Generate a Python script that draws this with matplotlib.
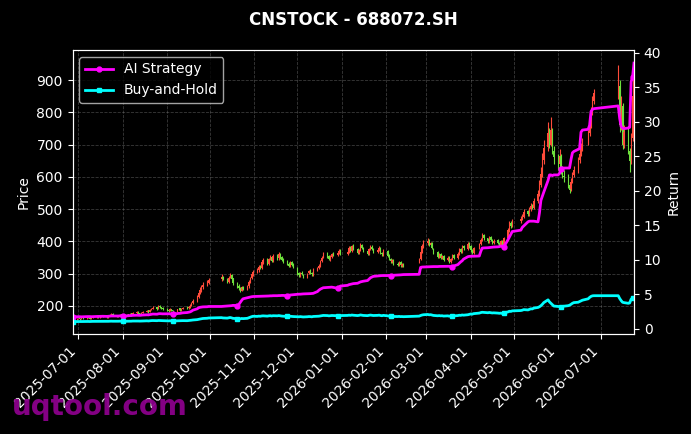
import numpy as np
import pandas as pd
import matplotlib
matplotlib.use("Agg")
import matplotlib.pyplot as plt
import matplotlib.dates as mdates

# trading days: weekdays minus exchange holidays and the stretch with no data
closed = ["2025-10-01", "2025-10-02", "2025-10-03", "2025-10-06", "2025-10-07", "2025-10-08",
          "2026-01-01", "2026-01-02",
          "2026-02-16", "2026-02-17", "2026-02-18", "2026-02-19", "2026-02-20", "2026-02-23",
          "2026-04-06", "2026-05-01", "2026-05-04", "2026-05-05", "2026-06-19"]
no_data = pd.bdate_range("2026-06-29", "2026-07-10")
days = pd.bdate_range("2025-06-27", "2026-07-24")
days = days[~days.isin(pd.to_datetime(closed)) & ~days.isin(no_data)]

# daily OHLC, one row per month (Jun-25 .. Jul-26)
opens = [
    156, 159,
    160, 162, 159, 164, 162, 166, 163, 161, 163, 166, 168, 165, 167, 171, 168, 166, 170, 172, 175, 171, 168, 170, 174,
    170, 173, 170, 174, 177, 173, 178, 181, 177, 175, 179, 182, 186, 181, 188, 192, 196, 190, 199, 196, 193,
    191, 188, 185, 190, 186, 183, 189, 193, 187, 191, 196, 193, 197, 202, 208, 216, 229, 241, 251, 259, 267, 272,
    282, 291, 284, 274, 289, 296, 285, 270, 263, 256, 247, 259, 251, 261, 276, 286, 297,
    306, 311, 323, 317, 336, 343, 331, 346, 353, 341, 356, 347, 361, 351, 343, 339, 331, 324, 336, 329,
    318, 301, 294, 303, 297, 291, 301, 309, 303, 297, 313, 319, 326, 339, 351, 363, 354, 344, 353, 361, 357, 366, 371,
    361, 369, 381, 371, 386, 377, 364, 373, 389, 379, 371, 361, 376, 384, 375, 367, 373, 381, 365, 359,
    370, 356, 344, 337, 343, 331, 327, 336, 325, 331, 336, 346, 369, 386,
    394, 403, 389, 396, 377, 366, 351, 361, 347, 356, 341, 351, 337, 346, 357, 347, 363, 376, 367, 386, 377, 393,
    386, 371, 364, 381, 393, 406, 419, 409, 399, 413, 404, 395, 403, 394, 387, 401, 384, 411, 436, 456, 447,
    463, 471, 477, 493, 484, 499, 511, 504, 526, 549, 576, 611, 651, 691, 736, 699, 746, 681,
    658, 641, 666, 621, 604, 599, 574, 561, 586, 606, 621, 651, 673, 689, 706, 736, 761, 801, 836,
    862, 881, 759, 821, 699, 741, 679, 651, 721, 849,
]
highs = [
    161, 163,
    163, 163, 165, 166, 167, 168, 165, 165, 168, 171, 170, 169, 173, 173, 170, 171, 175, 178, 177, 173, 172, 176, 176,
    175, 175, 176, 179, 179, 181, 183, 183, 179, 181, 185, 188, 188, 191, 195, 199, 198, 202, 203, 198, 196,
    193, 191, 193, 192, 188, 192, 195, 195, 194, 198, 199, 200, 205, 212, 220, 233, 247, 258, 266, 274, 280, 288,
    298, 294, 287, 292, 301, 298, 288, 274, 267, 260, 262, 263, 264, 280, 290, 303, 312,
    316, 328, 327, 340, 348, 347, 350, 358, 356, 360, 360, 366, 364, 356, 347, 343, 335, 340, 340, 332,
    320, 305, 306, 307, 300, 303, 312, 313, 306, 316, 322, 330, 343, 356, 368, 367, 358, 357, 365, 366, 370, 376, 375,
    374, 386, 385, 390, 392, 380, 376, 394, 393, 383, 374, 379, 388, 388, 378, 376, 385, 384, 368, 376,
    373, 360, 348, 346, 346, 336, 339, 339, 334, 334, 350, 373, 392, 405,
    410, 406, 399, 399, 381, 369, 364, 364, 359, 359, 354, 354, 349, 360, 360, 366, 380, 380, 390, 390, 398, 397,
    390, 376, 384, 396, 410, 425, 424, 412, 417, 417, 408, 406, 407, 398, 405, 405, 415, 442, 462, 462, 470,
    478, 486, 500, 497, 505, 518, 516, 535, 560, 590, 630, 675, 715, 770, 750, 785, 752, 695,
    672, 685, 672, 635, 620, 610, 585, 595, 615, 635, 660, 685, 705, 720, 745, 778, 815, 852, 872,
    945, 900, 850, 830, 760, 750, 690, 735, 870, 950,
]
lows = [
    154, 157,
    158, 157, 158, 160, 161, 162, 158, 159, 162, 164, 163, 163, 165, 166, 164, 164, 168, 170, 169, 166, 166, 168, 169,
    168, 168, 169, 172, 171, 172, 176, 175, 172, 174, 177, 180, 179, 180, 186, 189, 188, 189, 194, 191, 187,
    185, 182, 183, 184, 180, 181, 186, 184, 185, 189, 190, 190, 194, 199, 205, 212, 225, 236, 244, 252, 262, 268,
    276, 280, 270, 270, 285, 281, 266, 257, 250, 243, 245, 248, 248, 257, 272, 282, 293,
    301, 306, 313, 313, 331, 326, 327, 341, 336, 336, 343, 343, 346, 338, 333, 326, 320, 320, 324, 316,
    297, 291, 291, 295, 288, 288, 298, 300, 294, 294, 309, 315, 322, 335, 347, 350, 341, 340, 349, 354, 354, 362, 358,
    357, 365, 368, 367, 374, 361, 360, 369, 376, 366, 357, 358, 372, 372, 364, 364, 369, 362, 355, 356,
    352, 341, 334, 333, 328, 323, 324, 322, 321, 320, 332, 342, 364, 380,
    390, 386, 385, 375, 361, 348, 348, 344, 344, 338, 338, 334, 333, 342, 344, 344, 359, 364, 364, 373, 374, 380,
    368, 360, 360, 377, 389, 402, 405, 396, 395, 401, 392, 391, 391, 383, 384, 378, 380, 406, 430, 443, 444,
    458, 465, 472, 478, 479, 494, 500, 500, 520, 542, 568, 600, 640, 680, 690, 695, 672, 640,
    620, 632, 610, 596, 585, 565, 550, 555, 580, 598, 612, 642, 664, 680, 698, 728, 752, 792, 826,
    840, 740, 745, 685, 690, 670, 615, 640, 710, 835,
]
closes = [
    158, 160,
    161, 159, 163, 162, 165, 164, 160, 163, 166, 168, 165, 167, 170, 168, 166, 169, 172, 175, 171, 168, 170, 173, 171,
    172, 170, 174, 176, 173, 178, 180, 177, 175, 179, 182, 185, 181, 188, 192, 195, 190, 198, 196, 193, 190,
    188, 185, 190, 186, 183, 189, 192, 187, 191, 195, 193, 197, 201, 208, 215, 228, 240, 250, 258, 266, 272, 280,
    290, 283, 275, 288, 295, 284, 270, 262, 255, 248, 258, 252, 260, 275, 285, 298, 305,
    310, 322, 318, 335, 342, 330, 345, 352, 340, 355, 348, 360, 350, 342, 338, 330, 325, 335, 328, 320,
    300, 295, 302, 298, 292, 300, 308, 304, 298, 312, 318, 325, 338, 350, 362, 355, 345, 352, 360, 358, 365, 370, 362,
    368, 380, 372, 385, 378, 365, 372, 388, 380, 370, 362, 375, 383, 376, 368, 372, 380, 366, 360, 372,
    355, 345, 338, 342, 332, 328, 335, 326, 330, 324, 345, 368, 385, 395,
    402, 390, 395, 378, 365, 352, 360, 348, 355, 342, 350, 338, 345, 356, 348, 362, 375, 368, 385, 378, 392, 385,
    372, 365, 380, 392, 405, 418, 410, 400, 412, 405, 396, 402, 395, 388, 400, 385, 410, 435, 455, 448, 462,
    470, 478, 492, 485, 498, 510, 505, 525, 548, 575, 610, 650, 690, 735, 700, 745, 680, 660,
    640, 665, 620, 605, 598, 575, 560, 585, 605, 620, 650, 672, 690, 705, 735, 760, 800, 835, 860,
    880, 760, 820, 700, 740, 680, 650, 720, 850, 930,
]

# cumulative return curves (right axis)
ai_strategy = [
    1.74, 1.75,
    1.75, 1.76, 1.74, 1.75, 1.77, 1.78, 1.78, 1.76, 1.77, 1.79, 1.80, 1.80, 1.81, 1.82, 1.80, 1.82, 1.84, 1.86, 1.86, 1.85, 1.86, 1.88, 1.88,
    1.88, 1.88, 1.90, 1.92, 1.92, 1.95, 1.97, 1.96, 1.95, 1.98, 2.00, 2.03, 2.02, 2.06, 2.10, 2.14, 2.12, 2.18, 2.20, 2.18, 2.17,
    2.18, 2.17, 2.20, 2.19, 2.18, 2.20, 2.24, 2.24, 2.28, 2.32, 2.36, 2.40, 2.45, 2.55, 2.70, 2.90, 3.05, 3.12, 3.15, 3.18, 3.20, 3.24,
    3.24, 3.26, 3.30, 3.32, 3.34, 3.36, 3.40, 3.38, 3.50, 3.80, 4.10, 4.35, 4.50, 4.55, 4.60, 4.65, 4.68,
    4.70, 4.70, 4.72, 4.72, 4.74, 4.76, 4.76, 4.78, 4.78, 4.80, 4.80, 4.82, 4.82, 4.84, 4.84, 4.80, 4.86, 4.90, 4.92, 4.95,
    5.00, 5.02, 5.02, 5.04, 5.06, 5.08, 5.10, 5.10, 5.12, 5.14, 5.40, 5.60, 5.75, 5.85, 5.95, 6.00, 6.02, 6.04, 6.04, 6.00, 5.88, 6.00, 6.20,
    6.30, 6.40, 6.45, 6.50, 6.55, 6.60, 6.70, 6.80, 6.85, 6.90, 7.00, 7.20, 7.40, 7.50, 7.60, 7.65, 7.68, 7.70, 7.72, 7.72,
    7.72, 7.74, 7.72, 7.75, 7.76, 7.78, 7.80, 7.82, 7.84, 7.86, 7.90, 8.90, 8.95, 8.96,
    8.98, 9.00, 9.00, 9.02, 9.02, 9.02, 9.04, 9.04, 9.05, 9.05, 9.06, 9.06, 8.98, 8.94, 9.10, 9.30, 9.50, 9.70, 9.85, 10.10, 10.45, 10.50,
    10.50, 10.52, 10.52, 10.55, 11.20, 11.70, 11.72, 11.75, 11.78, 11.80, 11.82, 11.85, 11.88, 11.92, 11.95, 12.00, 11.85, 12.90, 13.30, 13.70, 14.10,
    14.30, 14.70, 14.90, 15.50, 15.60, 15.60, 15.60, 15.60, 15.50, 16.80, 18.60, 19.20, 19.80, 21.50, 22.30, 22.30, 22.20, 22.30,
    22.30, 22.50, 23.20, 23.30, 23.30, 23.30, 23.30, 24.50, 25.50, 25.70, 26.00, 26.10, 28.50, 28.80, 28.90, 29.50, 31.50, 31.80, 31.90,
    32.30, 30.50, 29.30, 29.10, 29.00, 29.10, 29.20, 35.80, 36.50, 38.50,
]
buy_hold = [
    1.05, 1.05,
    1.05, 1.06, 1.05, 1.06, 1.07, 1.07, 1.06, 1.07, 1.08, 1.08, 1.07, 1.08, 1.09, 1.08, 1.08, 1.09, 1.10, 1.11, 1.10, 1.09, 1.10, 1.11, 1.10,
    1.09, 1.10, 1.11, 1.12, 1.11, 1.13, 1.14, 1.13, 1.12, 1.13, 1.15, 1.16, 1.14, 1.17, 1.19, 1.20, 1.18, 1.21, 1.20, 1.19, 1.18,
    1.16, 1.15, 1.17, 1.15, 1.14, 1.16, 1.18, 1.16, 1.17, 1.19, 1.18, 1.20, 1.22, 1.25, 1.28, 1.33, 1.38, 1.42, 1.46, 1.50, 1.53, 1.57,
    1.62, 1.58, 1.55, 1.60, 1.64, 1.59, 1.52, 1.47, 1.46, 1.44, 1.50, 1.48, 1.52, 1.60, 1.68, 1.76, 1.82,
    1.80, 1.84, 1.82, 1.86, 1.88, 1.84, 1.88, 1.90, 1.86, 1.90, 1.88, 1.92, 1.88, 1.85, 1.83, 1.80, 1.79, 1.82, 1.80, 1.78,
    1.76, 1.74, 1.77, 1.75, 1.72, 1.75, 1.78, 1.77, 1.74, 1.79, 1.81, 1.83, 1.87, 1.90, 1.94, 1.92, 1.88, 1.90, 1.93, 1.92, 1.90, 1.95, 1.92,
    1.94, 1.98, 1.95, 2.00, 1.97, 1.92, 1.95, 2.01, 1.98, 1.94, 1.91, 1.96, 1.99, 1.96, 1.93, 1.95, 1.98, 1.93, 1.90, 1.95,
    1.88, 1.84, 1.82, 1.83, 1.79, 1.78, 1.80, 1.77, 1.78, 1.76, 1.84, 1.93, 2.00, 2.04,
    2.08, 2.03, 2.05, 1.99, 1.94, 1.89, 1.92, 1.88, 1.90, 1.85, 1.88, 1.83, 1.86, 1.90, 1.87, 1.92, 1.97, 1.95, 2.01, 1.98, 2.04, 2.10,
    2.15, 2.12, 2.20, 2.28, 2.35, 2.40, 2.38, 2.33, 2.37, 2.34, 2.30, 2.32, 2.28, 2.25, 2.28, 2.22, 2.30, 2.45, 2.55, 2.52, 2.60,
    2.65, 2.70, 2.78, 2.74, 2.82, 2.90, 2.88, 3.00, 3.10, 3.20, 3.35, 3.55, 3.80, 4.20, 3.90, 3.70, 3.50, 3.30,
    3.25, 3.22, 3.18, 3.22, 3.28, 3.35, 3.42, 3.55, 3.70, 3.80, 3.85, 3.95, 4.05, 4.15, 4.35, 4.55, 4.70, 4.78, 4.80,
    4.80, 4.40, 4.10, 3.85, 3.80, 3.70, 3.75, 4.30, 4.45, 4.55,
]

o = np.array(opens, dtype=float)
h = np.array(highs, dtype=float)
l = np.array(lows, dtype=float)
c = np.array(closes, dtype=float)
x = mdates.date2num(days)

up_color = "#ff4b3a"     # red = up
down_color = "#6ee03c"   # green = down
colors = np.where(c >= o, up_color, down_color)

fig = plt.figure(figsize=(6.91, 4.34), dpi=100, facecolor="black")
ax = fig.add_axes([0.105, 0.2304, 0.8125, 0.6544])
ax.set_facecolor("black")

ax.vlines(x, l, h, colors=colors, linewidth=0.8, zorder=2)
ax.bar(x, np.maximum(np.abs(c - o), 0.8), bottom=np.minimum(o, c), width=0.8,
       color=colors, linewidth=0, zorder=2)

ax.set_xlim(x[0], x[-1])
ax.set_ylim(113, 993)
ax.set_ylabel("Price", color="white", fontsize=10)
ax.xaxis.set_major_locator(mdates.MonthLocator())
ax.xaxis.set_major_formatter(mdates.DateFormatter("%Y-%m-%d"))
plt.setp(ax.get_xticklabels(), rotation=45, ha="right")
ax.tick_params(colors="white", labelsize=10)
ax.grid(True, linestyle="--", color="gray", alpha=0.45, linewidth=0.6)
for s in ax.spines.values():
    s.set_color("white")

ax2 = ax.twinx()
ax2.plot(days, ai_strategy, color="magenta", linewidth=2, marker="o", markersize=3.5,
         markevery=25, label="AI Strategy")
ax2.plot(days, buy_hold, color="cyan", linewidth=2, marker="s", markersize=3.5,
         markevery=25, label="Buy-and-Hold")
ax2.set_xlim(x[0], x[-1])
ax2.set_ylim(-0.75, 40.4)
ax2.set_ylabel("Return", color="white", fontsize=10)
ax2.tick_params(colors="white", labelsize=10)
for s in ax2.spines.values():
    s.set_color("white")

leg = ax2.legend(loc="upper left", facecolor="black", edgecolor="#cccccc",
                 labelcolor="white", fontsize=10)

ax.set_title("CNSTOCK - 688072.SH", color="white", fontsize=12, fontweight="bold", pad=18)

fig.text(0.017, 0.044, "uqtool.com", color="#8b008b", fontsize=20, fontweight="bold",
         va="baseline", alpha=0.95)

assert len(days) == len(closes) == len(ai_strategy) == len(buy_hold)
fig.savefig("out.png", dpi=100, facecolor="black")
